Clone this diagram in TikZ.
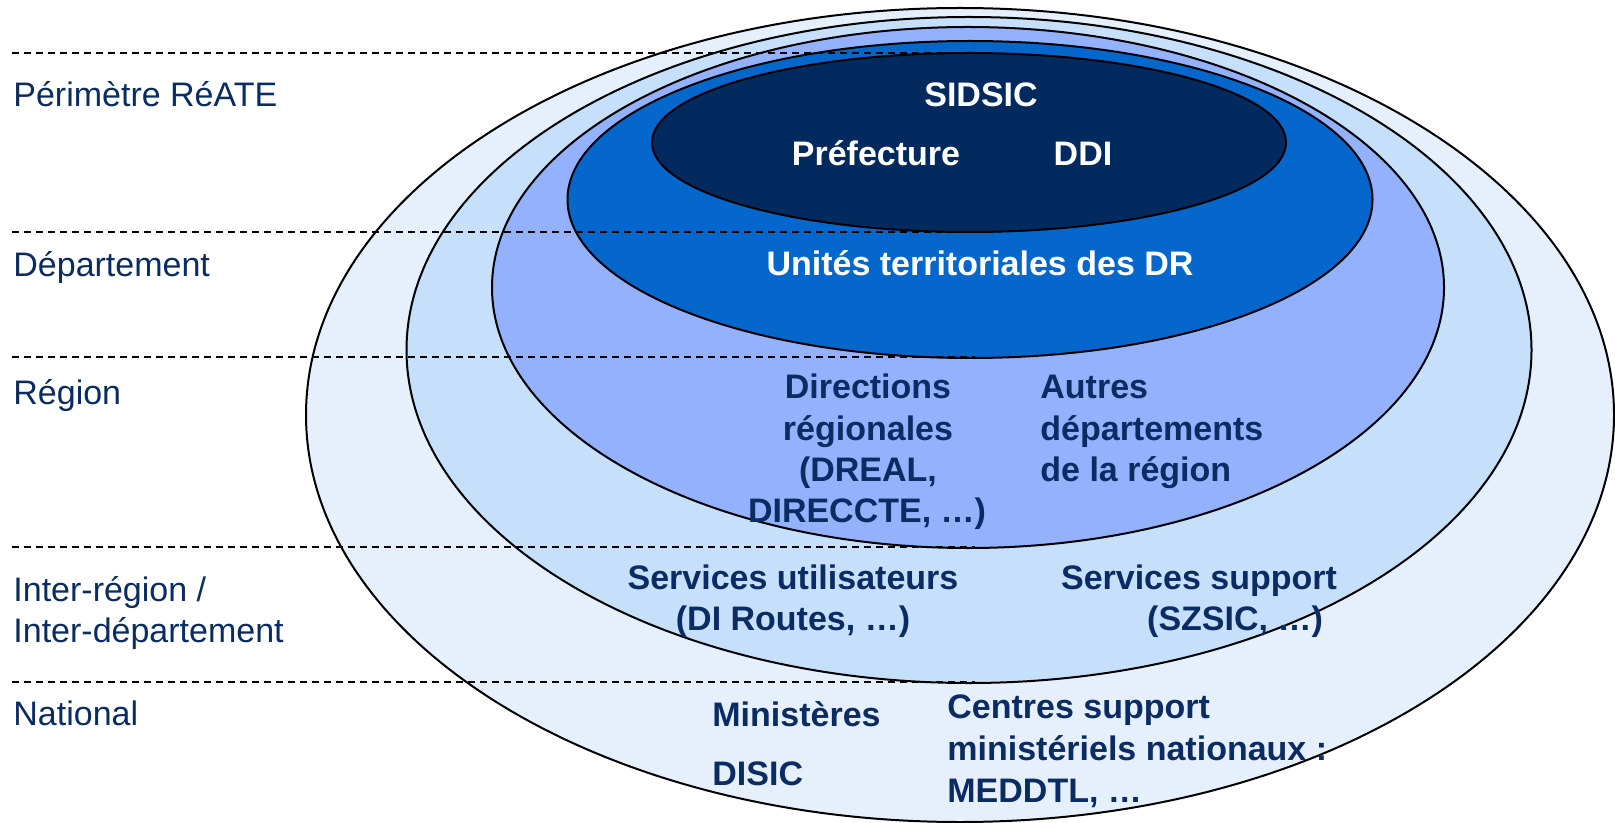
\documentclass[tikz,border=0pt]{standalone}
\usepackage{fontspec}
\setmainfont{Liberation Sans}
\usetikzlibrary{shapes.geometric}
\definecolor{cone}{HTML}{E6F0FD}
\definecolor{ctwo}{HTML}{C6DFFA}
\definecolor{cthree}{HTML}{93B1FD}
\definecolor{cfour}{HTML}{0566CC}
\definecolor{cfive}{HTML}{022A5E}
\definecolor{txtc}{HTML}{0A2C62}
\begin{document}
\begin{tikzpicture}[x=0.5pt,y=-0.5pt,
  ring/.style={ellipse,draw=black,line width=1pt,inner sep=0pt},
  sep/.style={draw=black,line width=0.9pt,dash pattern=on 3.6pt off 2.4pt},
  lbl/.style={font=\fontsize{17pt}{20.5pt}\selectfont,text=txtc,inner sep=0pt},
  blbl/.style={font=\fontsize{17pt}{20.5pt}\selectfont\bfseries,text=txtc,inner sep=0pt},
  wlbl/.style={font=\fontsize{17pt}{20.5pt}\selectfont\bfseries,text=white,inner sep=0pt}]
\useasboundingbox (0,0) rectangle (1615,823);
% rings
\node[ring,fill=cone,minimum width=654pt,minimum height=407pt] (e1) at (960,415) {};
\node[ring,fill=ctwo,minimum width=562.5pt,minimum height=333pt] (e2) at (969,350) {};
\node[ring,fill=cthree,minimum width=476pt,minimum height=260.5pt] (e3) at (968,287.5) {};
\node[ring,fill=cfour,minimum width=402.5pt,minimum height=158.5pt] (e4) at (970,199.5) {};
\node[ring,fill=cfive,minimum width=317pt,minimum height=89.5pt] (e5) at (969,142.5) {};
% separators
\coordinate (s1a) at (12,53);  \coordinate (s1b) at (975,53);
\coordinate (s2a) at (12,232); \coordinate (s2b) at (975,232);
\coordinate (s3a) at (12,357); \coordinate (s3b) at (975,357);
\coordinate (s4a) at (12,547); \coordinate (s4b) at (975,547);
\coordinate (s5a) at (12,682); \coordinate (s5b) at (975,682);
\draw[sep] (s1a) -- (s1b);
\draw[sep] (s2a) -- (s2b);
\draw[sep] (s3a) -- (s3b);
\draw[sep] (s4a) -- (s4b);
\draw[sep] (s5a) -- (s5b);
% left labels
\node[lbl,anchor=base west] (l1) at (13,107) {Périmètre RéATE};
\node[lbl,anchor=base west] (l2) at (13,277) {Département};
\node[lbl,anchor=base west] (l3) at (13,404) {Région};
\node[lbl,anchor=base west] (l4a) at (13,601) {Inter-région /};
\node[lbl,anchor=base west] (l4b) at (13,642) {Inter-département};
\node[lbl,anchor=base west] (l5) at (13,725) {National};
% inner texts
\node[wlbl,anchor=base] (t1) at (981,107) {SIDSIC};
\node[wlbl,anchor=base] (t2) at (876,166) {Préfecture};
\node[wlbl,anchor=base] (t3) at (1083,166) {DDI};
\node[wlbl,anchor=base] (t4) at (980,276) {Unités territoriales des DR};
\node[blbl,anchor=base] (d1) at (868,398) {Directions};
\node[blbl,anchor=base] (d2) at (868,440) {régionales};
\node[blbl,anchor=base] (d3) at (868,481) {(DREAL,};
\node[blbl,anchor=base] (d4) at (867,522) {DIRECCTE, …)};
\node[blbl,anchor=base west] (a1) at (1040,398) {Autres};
\node[blbl,anchor=base west] (a2) at (1040,440) {départements};
\node[blbl,anchor=base west] (a3) at (1040,481) {de la région};
\node[blbl,anchor=base] (u1) at (793,589) {Services utilisateurs};
\node[blbl,anchor=base] (u2) at (793,630) {(DI Routes, …)};
\node[blbl,anchor=base] (p1) at (1199,589) {Services support};
\node[blbl,anchor=base] (p2) at (1235,630) {(SZSIC, …)};
\node[blbl,anchor=base west] (m1) at (712,726) {Ministères};
\node[blbl,anchor=base west] (m2) at (712,785) {DISIC};
\node[blbl,anchor=base west] (c1) at (947,718) {Centres support};
\node[blbl,anchor=base west] (c2) at (947,760) {ministériels nationaux :};
\node[blbl,anchor=base west] (c3) at (947,802) {MEDDTL, …};
\end{tikzpicture}
\end{document}
